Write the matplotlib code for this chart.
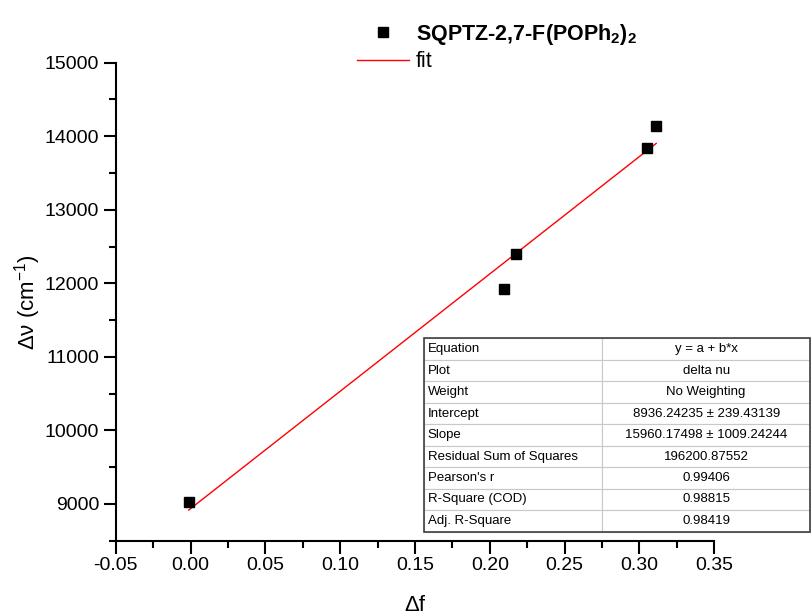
import matplotlib
matplotlib.use("Agg")
import matplotlib.pyplot as plt
from matplotlib.ticker import MultipleLocator, FormatStrFormatter
import numpy as np

plt.rcParams["font.family"] = ["Liberation Sans", "DejaVu Sans"]
plt.rcParams["mathtext.fontset"] = "custom"
plt.rcParams["mathtext.rm"] = "Liberation Sans"
plt.rcParams["mathtext.it"] = "Liberation Sans:italic"
plt.rcParams["mathtext.bf"] = "Liberation Sans:bold"

# Solvent polarity parameter vs Stokes shift
delta_f = [-0.0012, 0.2096, 0.2174, 0.3053, 0.3112]
delta_nu = [9023, 11927, 12403, 13836, 14143]

# Linear fit results
intercept = 8936.24235
slope = 15960.17498

table_keys = ["Equation", "Plot", "Weight", "Intercept", "Slope",
              "Residual Sum of Squares", "Pearson's r", "R-Square (COD)",
              "Adj. R-Square"]
table_vals = ["y = a + b*x", "delta nu", "No Weighting",
              "8936.24235 \u00b1 239.43139", "15960.17498 \u00b1 1009.24244",
              "196200.87552", "0.99406", "0.98815", "0.98419"]

fig = plt.figure(figsize=(8.11, 6.15), dpi=100)
ax = fig.add_axes([0.1427, 0.1208, 0.7380, 0.7772])

ax.plot(delta_f, delta_nu, "s", color="black", markersize=7.5,
        linestyle="none", label="SQPTZ-2,7-F(POPh$_\\mathbf{2}$)$_\\mathbf{2}$",
        zorder=3)
xf = np.array([min(delta_f), max(delta_f)])
ax.plot(xf, intercept + slope * xf, color="red", lw=1.0, label="fit", zorder=2)

ax.set_xlim(-0.05, 0.35)
ax.set_ylim(8500, 15000)
ax.xaxis.set_major_locator(MultipleLocator(0.05))
ax.xaxis.set_minor_locator(MultipleLocator(0.025))
ax.yaxis.set_major_locator(MultipleLocator(1000))
ax.yaxis.set_minor_locator(MultipleLocator(500))
ax.xaxis.set_major_formatter(FormatStrFormatter("%.2f"))
ax.set_yticks([9000, 10000, 11000, 12000, 13000, 14000, 15000])
ax.tick_params(which="major", direction="out", length=9, width=1.5,
               labelsize=14, pad=3)
ax.tick_params(which="minor", direction="out", length=5, width=1.5)
for side in ("top", "right"):
    ax.spines[side].set_visible(False)
for side in ("left", "bottom"):
    ax.spines[side].set_linewidth(1.5)

ax.set_xlabel("\u0394f", fontsize=16, labelpad=15)
ax.set_ylabel("\u0394\u03bd (cm$^{-1}$)", fontsize=16, labelpad=1)

leg = ax.legend(loc="upper left", bbox_to_anchor=(357 / 811, 1 - 22 / 615),
                bbox_transform=fig.transFigure, frameon=False, fontsize=15.5,
                handlelength=2.4, handletextpad=0.35, borderpad=0,
                borderaxespad=0, labelspacing=0.2, markerscale=1.0)
leg.get_texts()[0].set_fontweight("bold")

# Fit statistics table
tbl = ax.table(cellText=[[k, v] for k, v in zip(table_keys, table_vals)],
               colWidths=[0.298, 0.347], cellLoc="center",
               bbox=[0.515, 0.0188, 0.645, 0.4046])
tbl.auto_set_font_size(False)
tbl.set_fontsize(9.5)
tbl.set_clip_on(False)
for (r, c), cell in tbl.get_celld().items():
    cell.set_edgecolor("#c8c8c8")
    cell.set_linewidth(0.8)
    cell.set_facecolor("white")
    if c == 0:
        cell.set_text_props(ha="left")
        cell.PAD = 0.02
tbl.set_zorder(5)
outer = plt.Rectangle((0.515, 0.0188), 0.645, 0.4046, transform=ax.transAxes,
                      fill=False, edgecolor="#404040", lw=1.2, clip_on=False,
                      zorder=6)
ax.add_patch(outer)

fig.savefig("out.png", dpi=100)
